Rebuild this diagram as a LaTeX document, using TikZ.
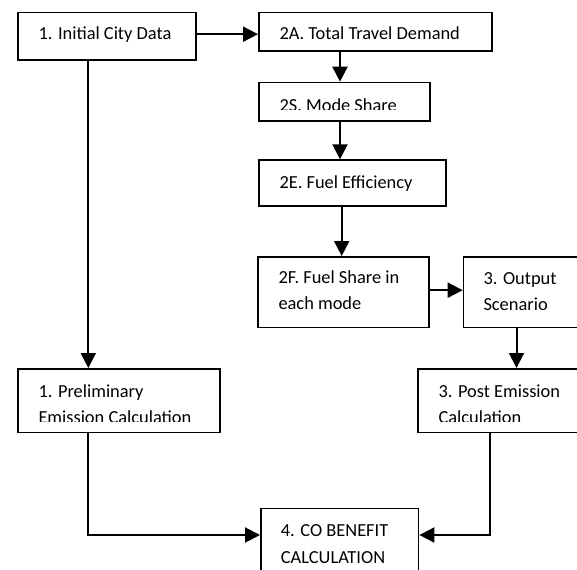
\documentclass[tikz,border=0pt]{standalone}
\usepackage{fontspec}
\setmainfont{Carlito}
\usetikzlibrary{arrows.meta}
\tikzset{
  box/.style={draw=black, line width=1.7pt, rectangle, inner sep=0pt, anchor=north west},
  txt/.style={anchor=base west, inner sep=0pt, text=black, font=\fontsize{18.4}{26.5}\selectfont},
  conn/.style={draw=black, line width=2pt, -{Triangle[length=15pt,width=15pt]}},
  plain/.style={draw=black, line width=2pt}
}
\newcommand{\twolines}[2]{\parbox[t]{8cm}{\fontsize{18.4}{26.5}\selectfont #1\\#2}}
\begin{document}
\begin{tikzpicture}[x=1pt,y=-1pt]
\useasboundingbox (0,0) rectangle (577,569);
\clip (0,0) rectangle (577,569);
% boxes
\node[box, minimum width=178pt, minimum height=47.3pt] (b1) at (17,11.7) {};
\node[box, minimum width=233pt, minimum height=38.3pt] (b2a) at (258,11.7) {};
\node[box, minimum width=171pt, minimum height=38.3pt] (b2s) at (258,81.7) {};
\node[box, minimum width=187pt, minimum height=45.7pt] (b2e) at (258,159.3) {};
\node[box, minimum width=171pt, minimum height=70.7pt] (b2f) at (257.3,256) {};
\node[box, minimum width=200pt, minimum height=70.7pt] (b3o) at (462.7,256) {};
\node[box, minimum width=201.7pt, minimum height=63.7pt] (bpre) at (17.3,368) {};
\node[box, minimum width=200pt, minimum height=63.7pt] (b3p) at (417.3,368) {};
\node[box, minimum width=157.7pt, minimum height=100pt] (b4) at (260,507.7) {};
% texts
\node[txt] (t1) at (38.3,40) {1. Initial City Data};
\node[txt] (t2a) at (279.3,40) {2A. Total Travel Demand};
\begin{scope}
\clip (258,81.7) rectangle (429,110);
\node[txt] (t2s) at (279.3,111.8) {2S. Mode Share};
\end{scope}
\node[txt] (t2e) at (279.3,189) {2E. Fuel Efficiency};
\node[txt] (t2f) at (278.3,283.3) {\twolines{2F. Fuel Share in}{each mode}};
\node[txt] (t3o) at (483.3,284) {\twolines{3. Output}{Scenario}};
\begin{scope}
\clip (17.3,368) rectangle (577,421);
\node[txt] (tpre) at (38.3,397) {\twolines{1. Preliminary}{Emission Calculation}};
\node[txt] (t3p) at (438.3,397) {\twolines{3. Post Emission}{Calculation}};
\end{scope}
\node[txt] (t4) at (280.7,536.7) {\twolines{4. CO BENEFIT}{CALCULATION}};
% guide coordinates
\coordinate (colL) at (88.3,0);
\coordinate (colA) at (340,0);
\coordinate (colE) at (341.7,0);
\coordinate (colO) at (516.5,0);
\coordinate (colP) at (490,0);
\coordinate (rowB) at (0,535);
% connectors
\draw[conn] ([yshift=2pt]b1.east) -- ([yshift=2pt]b1.east -| b2a.west);
\draw[conn] (b1.south -| colL) -- (bpre.north -| colL);
\draw[conn] (b2a.south -| colA) -- (b2s.north -| colA);
\draw[conn] (b2s.south -| colA) -- (b2e.north -| colA);
\draw[conn] (b2e.south -| colE) -- (b2f.north -| colE);
\draw[conn] ([yshift=2pt]b2f.east) -- ([yshift=2pt]b2f.east -| b3o.west);
\draw[conn] (b3o.south -| colO) -- (b3p.north -| colO);
\draw[conn] (bpre.south -| colL) -- (rowB -| colL) -- (rowB -| b4.west);
\draw[conn] (b3p.south -| colP) -- (rowB -| colP) -- (rowB -| b4.east);
\end{tikzpicture}
\end{document}
